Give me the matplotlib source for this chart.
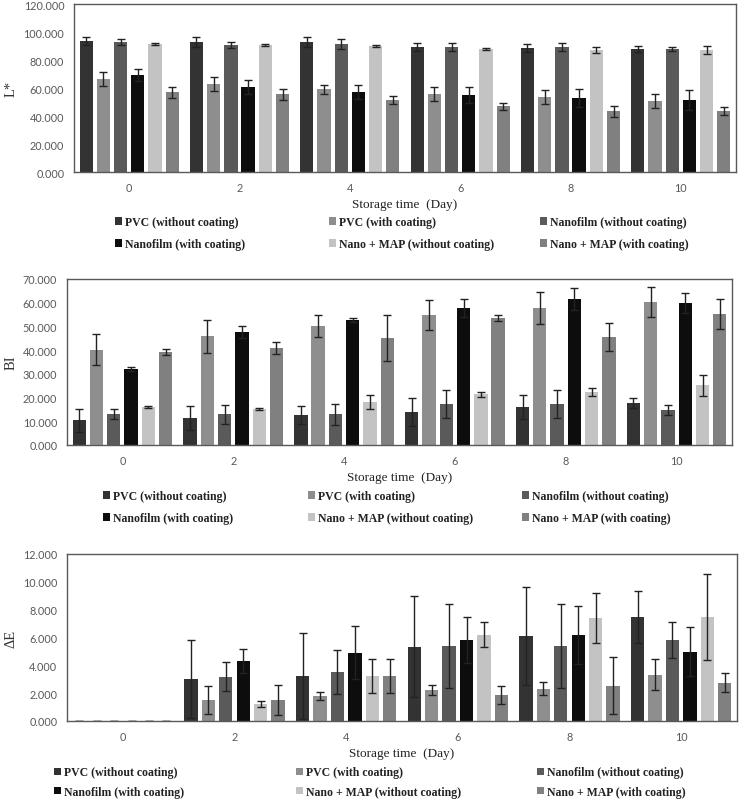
import numpy as np
import matplotlib
matplotlib.use("Agg")
import matplotlib.pyplot as plt

# storage days and treatments
days = ["0", "2", "4", "6", "8", "10"]
treatments = ["PVC (without coating)", "PVC (with coating)", "Nanofilm (without coating)",
              "Nanofilm (with coating)", "Nano + MAP (without coating)", "Nano + MAP (with coating)"]
colors = ["#333333", "#8e8e8e", "#5a5a5a", "#0d0d0d", "#c3c3c3", "#808080"]

# L* (one row per treatment, one value per day)
L_mean = [
    [93.5, 92.8, 92.8, 89.2, 88.5, 87.8],
    [66.3, 62.8, 59.2, 55.6, 53.5, 50.6],
    [92.8, 90.7, 91.4, 89.2, 89.2, 87.8],
    [69.2, 60.6, 57.0, 54.9, 52.7, 51.3],
    [91.4, 90.7, 90.0, 87.8, 87.0, 87.0],
    [57.0, 55.6, 51.3, 47.0, 43.4, 43.4],
]
L_err = [
    [2.7, 3.4, 3.4, 2.9, 2.9, 2.1],
    [5.0, 4.8, 3.3, 4.8, 5.0, 5.0],
    [2.0, 2.0, 3.3, 2.9, 2.9, 1.4],
    [4.1, 4.8, 4.8, 5.5, 6.4, 7.1],
    [0.5, 0.5, 0.7, 1.0, 2.1, 2.9],
    [4.0, 4.0, 2.9, 2.6, 4.1, 2.9],
]

# browning index
BI_mean = [
    [10.4, 11.3, 12.5, 13.8, 15.9, 17.6],
    [40.1, 45.9, 50.1, 54.8, 57.7, 60.3],
    [13.0, 13.0, 13.0, 17.2, 17.2, 14.7],
    [32.0, 47.6, 52.7, 57.7, 61.5, 59.8],
    [15.9, 15.1, 18.0, 21.4, 22.3, 25.2],
    [39.2, 40.8, 45.1, 53.5, 45.5, 55.2],
]
BI_err = [
    [4.8, 5.0, 3.8, 5.9, 5.0, 2.1],
    [6.5, 7.0, 4.6, 6.2, 6.8, 6.2],
    [2.2, 4.0, 4.5, 5.8, 5.8, 2.1],
    [0.8, 2.4, 0.7, 3.7, 4.5, 4.2],
    [0.5, 0.3, 3.0, 1.1, 1.7, 4.5],
    [1.2, 2.5, 9.6, 1.2, 5.8, 6.2],
]

# delta E
dE_mean = [
    [0, 3.03, 3.25, 5.33, 6.12, 7.48],
    [0, 1.53, 1.81, 2.25, 2.32, 3.32],
    [0, 3.18, 3.54, 5.40, 5.40, 5.83],
    [0, 4.33, 4.90, 5.83, 6.19, 4.97],
    [0, 1.24, 3.25, 6.19, 7.41, 7.48],
    [0, 1.53, 3.25, 1.89, 2.53, 2.75],
]
dE_err = [
    [0, 2.80, 3.08, 3.64, 3.50, 1.84],
    [0, 1.00, 0.29, 0.35, 0.48, 1.10],
    [0, 1.05, 1.57, 3.00, 3.00, 1.27],
    [0, 0.86, 1.91, 1.63, 2.06, 1.77],
    [0, 0.22, 1.22, 0.90, 1.77, 3.09],
    [0, 1.07, 1.22, 0.64, 2.06, 0.69],
]

W, H = 739, 804
fig = plt.figure(figsize=(W / 100, H / 100), dpi=100)

GRAY = "#595959"
TICKFONT = "Lato"
SERIF = "Liberation Serif"


def draw_panel(rect, means, errs, ylabel, ymax, ystep, legend_x, legend_y, rowgap):
    """rect in pixels: left, top, right, bottom"""
    l, t, r, b = rect
    ax = fig.add_axes([l / W, 1 - b / H, (r - l) / W, (b - t) / H])
    x = np.arange(len(days))
    pitch, width = 0.156, 0.12
    handles = []
    for i, (m, e) in enumerate(zip(means, errs)):
        bars = ax.bar(x + (i - 2.5) * pitch, m, width, color=colors[i], yerr=e,
                      error_kw=dict(ecolor="#222222", elinewidth=1.0, capsize=2.6, capthick=1.0),
                      zorder=2)
        handles.append(bars)
    ax.set_xlim(-0.5, len(days) - 0.5)
    ax.set_ylim(0, ymax)
    ticks = np.arange(0, ymax + 0.001, ystep)
    ax.set_yticks(ticks)
    ax.set_yticklabels([f"{v:.3f}" for v in ticks])
    ax.set_xticks(x)
    ax.set_xticklabels(days)
    ax.tick_params(length=0, colors=GRAY, labelsize=7.8, pad=7)
    for lab in ax.get_xticklabels() + ax.get_yticklabels():
        lab.set_fontfamily(TICKFONT)
    for s in ax.spines.values():
        s.set_color(GRAY)
        s.set_linewidth(1.0)
    ax.set_xlabel("Storage time  (Day)", fontfamily=SERIF, fontsize=9.5, labelpad=3.5,
                  color="#222222")
    ax.set_ylabel(ylabel, fontfamily=SERIF, fontsize=10.5, color="#333333")
    ax.yaxis.set_label_coords(-(l - 18) / (r - l), 0.5)

    # legend in three columns of two rows
    for c in range(3):
        hs = [handles[c], handles[c + 3]]
        labs = [treatments[c], treatments[c + 3]]
        leg = fig.legend(hs, labs, loc="center left",
                         bbox_to_anchor=(legend_x[c] / W, 1 - legend_y / H),
                         frameon=False, borderpad=0, borderaxespad=0,
                         handlelength=0.6, handleheight=0.6, handletextpad=0.25,
                         labelspacing=rowgap,
                         prop=dict(family=SERIF, weight="bold", size=8.5))
        for txt in leg.get_texts():
            txt.set_color("#222222")
    return ax


draw_panel((74, 5, 736, 173), L_mean, L_err, "L*", 120, 20, [115, 329, 540], 234, 0.85)
draw_panel((67, 280, 732, 446), BI_mean, BI_err, "BI", 70, 10, [103, 308, 522], 508, 0.85)
draw_panel((67, 555, 737, 722), dE_mean, dE_err, "ΔE", 12, 2, [54, 296, 537], 783, 0.6)

fig.savefig("out.png", dpi=100)
